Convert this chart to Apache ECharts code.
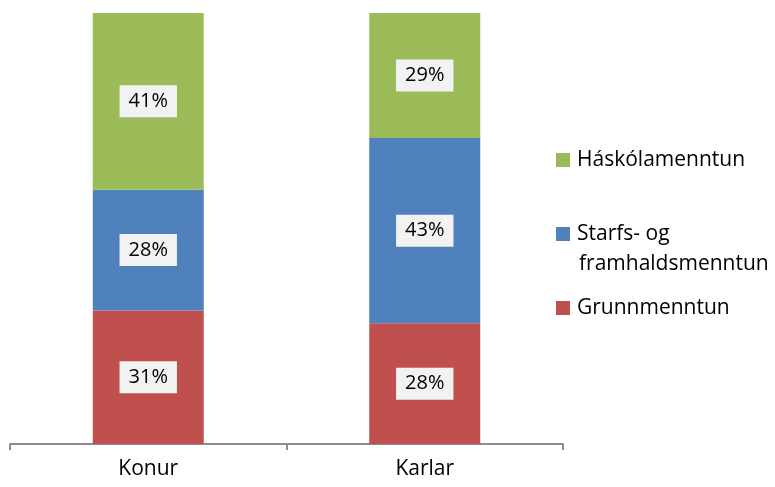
<!DOCTYPE html>
<html><head><meta charset="utf-8">
<script src="https://cdn.jsdelivr.net/npm/echarts@6/dist/echarts.min.js"></script>
<style>html,body{margin:0;padding:0;background:#fff}#c{width:775px;height:487px}</style>
</head><body><div id="c"></div>
<script>
const categories = ['Konur', 'Karlar'];
const grunn = [31, 28];
const starfs = [28, 43];
const haskoli = [41, 29];
const seriesNames = ['Grunnmenntun', 'Starfs- og framhaldsmenntun', 'Háskólamenntun'];
const colors = ['#c0504d', '#4f81bd', '#9bbb59'];
const FONT = 'Open Sans';

const chart = echarts.init(document.getElementById('c'));
const lbl = {
  show: true, position: 'inside', formatter: '{c}%',
  backgroundColor: '#f2f2f2', color: '#000', fontSize: 20, fontFamily: FONT,
  padding: [7, 9, 5, 9]
};
function mk(name, data, color) {
  return { name, type: 'bar', stack: 's', data, barWidth: 111,
    itemStyle: { color }, label: lbl, emphasis: { disabled: true } };
}
function leg(name, top, fmt) {
  return { show: true, orient: 'vertical', left: 556, top, data: [name], itemWidth: 14, itemHeight: 14,
    itemGap: 0, icon: 'rect', selectedMode: false, padding: 0,
    formatter: fmt || '{name}',
    textStyle: { fontSize: 21, lineHeight: 24, fontFamily: FONT, color: '#000', padding: [0, 0, 0, 2] } };
}
chart.setOption({
  animation: false,
  color: colors,
  grid: { left: 10, right: 212, top: 13, bottom: 43 },
  xAxis: { type: 'category', data: categories,
    axisLine: { lineStyle: { color: '#8c8c8c', width: 2 } },
    axisTick: { show: true, length: 6, lineStyle: { color: '#8c8c8c', width: 2 } },
    axisLabel: { fontSize: 21, fontFamily: FONT, color: '#000', margin: 15 } },
  yAxis: { type: 'value', min: 0, max: 100, show: false, splitLine: { show: false } },
  legend: [
    leg(seriesNames[2], 148),
    leg(seriesNames[1], 222, 'Starfs- og'),
    leg(seriesNames[0], 296)
  ],
  graphic: [{ type: 'text', left: 579, top: 254,
    style: { text: 'framhaldsmenntun', fontSize: 21, fontFamily: FONT, fill: '#000' } }],
  series: [
    mk(seriesNames[0], grunn, colors[0]),
    mk(seriesNames[1], starfs, colors[1]),
    mk(seriesNames[2], haskoli, colors[2])
  ]
});
</script></body></html>
